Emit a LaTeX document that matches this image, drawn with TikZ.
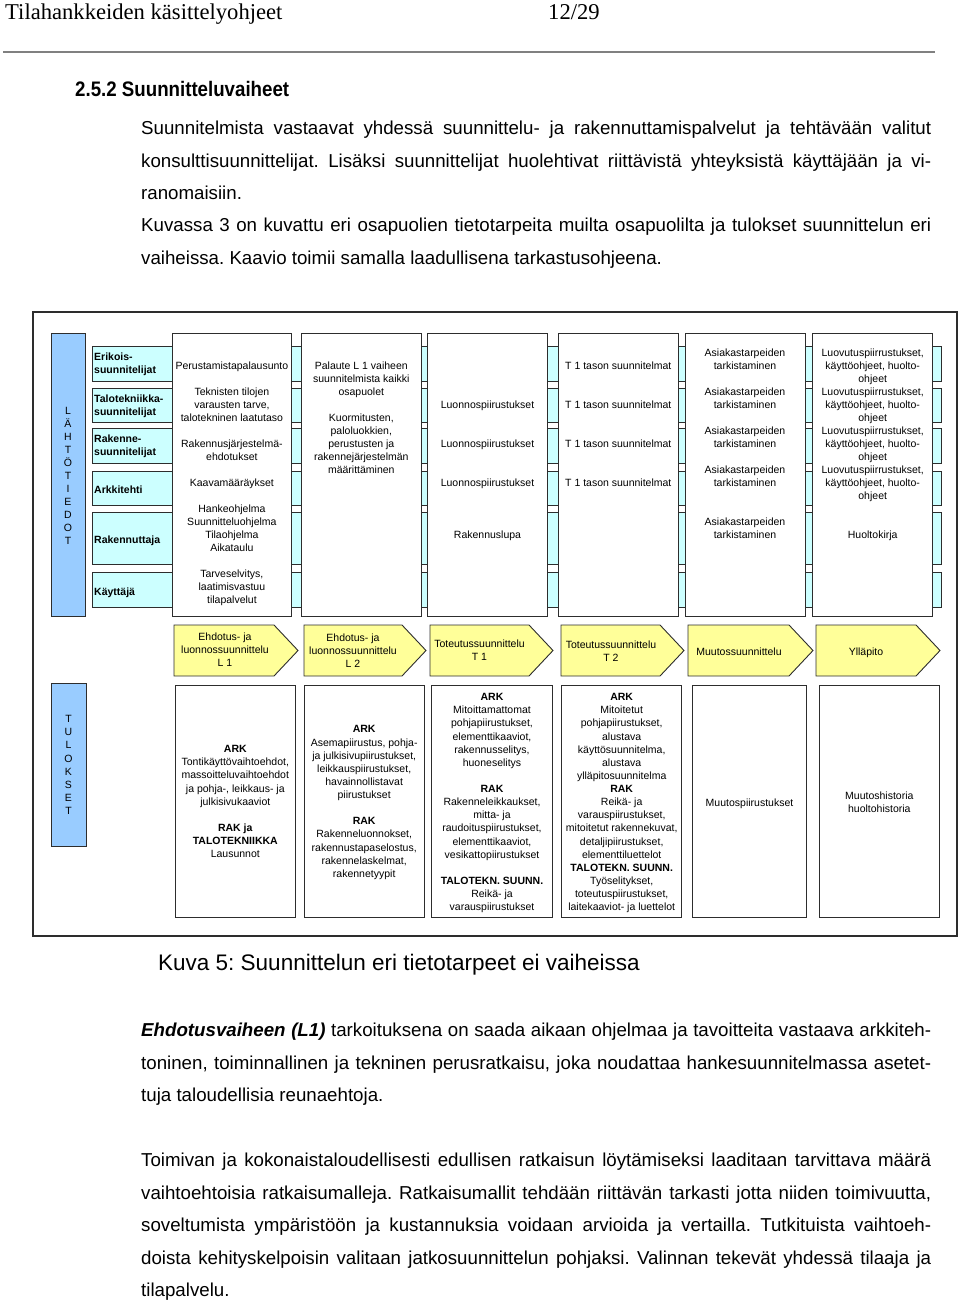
\documentclass[tikz,border=0pt]{standalone}
\usepackage{fontspec}
\usepackage{graphicx}
\setmainfont{Liberation Sans}
\newfontfamily\hdrfont{Liberation Serif}
\frenchspacing
\definecolor{bandc}{RGB}{204,255,255}
\definecolor{barc}{RGB}{153,204,255}
\definecolor{arrc}{RGB}{255,255,153}
\definecolor{linec}{RGB}{45,45,45}
\definecolor{rulec}{RGB}{128,128,128}
\tikzset{
  boxline/.style={draw=linec, line width=0.9pt},
  colbox/.style={boxline, fill=white},
  band/.style={boxline, fill=bandc},
  bluebar/.style={boxline, fill=barc},
  phase/.style={boxline, fill=arrc, line join=miter},
  dtxt/.style={align=center, inner sep=0pt, yshift=-2pt, font=\fontsize{10.5}{13}\selectfont,
    execute at begin node=\strut, execute at end node=\strut},
  btxt/.style={align=center, inner sep=0pt, yshift=-2pt, font=\fontsize{10.5}{13.125}\selectfont,
    execute at begin node=\strut, execute at end node=\strut},
  ltxt/.style={align=left, anchor=west, inner sep=0pt, yshift=-2pt, font=\fontsize{10.5}{13}\selectfont\bfseries,
    execute at begin node=\strut, execute at end node=\strut},
  body/.style={anchor=base west, inner sep=0pt, font=\fontsize{18.7}{22}\selectfont},
}
\newcommand{\jl}[1]{\makebox[790pt][s]{#1}}
\begin{document}
\begin{tikzpicture}[x=1pt,y=-1pt]
\useasboundingbox (0,0) rectangle (960,1303);
% page header
\node[anchor=base west, inner sep=0pt, font=\hdrfont\fontsize{22.6}{26}\selectfont] (hdr) at (5,20) {Tilahankkeiden käsittelyohjeet};
\node[anchor=base west, inner sep=0pt, font=\hdrfont\fontsize{22.6}{26}\selectfont] (pg) at (548,20) {12/29};
\draw[rulec, line width=2pt] (3,52) -- (935,52);
\node[anchor=base west, inner sep=0pt, font=\fontsize{21}{24}\selectfont\bfseries] (h252) at (75,97) {\scalebox{0.89}[1]{2.5.2 Suunnitteluvaiheet}};
% intro text
\node[body] (t1) at (141,134.8) {\jl{Suunnitelmista vastaavat yhdessä suunnittelu- ja rakennuttamispalvelut ja tehtävään valitut}};
\node[body] (t2) at (141,167.1) {\jl{konsulttisuunnittelijat. Lisäksi suunnittelijat huolehtivat riittävistä yhteyksistä käyttäjään ja vi-}};
\node[body] (t3) at (141,199.4) {ranomaisiin.};
\node[body] (t4) at (141,231.7) {\jl{Kuvassa 3 on kuvattu eri osapuolien tietotarpeita muilta osapuolilta ja tulokset suunnittelun eri}};
\node[body] (t5) at (141,264.0) {vaiheissa. Kaavio toimii samalla laadullisena tarkastusohjeena.};
% diagram frame
\draw[linec, line width=1.5pt] (33,312) rectangle (957,936);
% row bands
\draw[band] (92,346.5) rectangle (941,381);
\draw[band] (92,388) rectangle (941,422);
\draw[band] (92,428.5) rectangle (941,463);
\draw[band] (92,471) rectangle (941,505);
\draw[band] (92,512) rectangle (941,564);
\draw[band] (92,572) rectangle (941,607);
% input columns
\draw[colbox] (172.7,333) rectangle (291,616);
\draw[colbox] (301.7,333) rectangle (421,616);
\draw[colbox] (427.7,333) rectangle (547.3,616);
\draw[colbox] (558.3,333) rectangle (678.3,616);
\draw[colbox] (685,333) rectangle (805,616);
\draw[colbox] (812.7,333) rectangle (932.7,616);
% blue bars
\draw[bluebar] (51,333) rectangle (85,616);
\draw[bluebar] (51,683) rectangle (86,846);
\node[dtxt] (lahto) at (68,475.5) {L\\Ä\\H\\T\\Ö\\T\\I\\E\\D\\O\\T};
\node[btxt] (tulos) at (68.5,765) {T\\U\\L\\O\\K\\S\\E\\T};
% row labels
\node[ltxt] (r1) at (94,363.5) {Erikois-\\suunnitelijat};
\node[ltxt] (r2) at (94,405.5) {Talotekniikka-\\suunnitelijat};
\node[ltxt] (r3) at (94,445.5) {Rakenne-\\suunnitelijat};
\node[ltxt] (r4) at (94,489) {Arkkitehti};
\node[ltxt] (r5) at (94,539) {Rakennuttaja};
\node[ltxt] (r6) at (94,591) {Käyttäjä};
% input column texts
\node[dtxt] (c1) at (231.9,483) {Perustamistapalausunto\\~\\Teknisten tilojen\\varausten tarve,\\talotekninen laatutaso\\~\\Rakennusjärjestelmä-\\ehdotukset\\~\\Kaavamääräykset\\~\\Hankeohjelma\\Suunnitteluohjelma\\Tilaohjelma\\Aikataulu\\~\\Tarveselvitys,\\laatimisvastuu\\tilapalvelut};
\node[dtxt] (c2) at (361.3,418) {Palaute L 1 vaiheen\\suunnitelmista kaikki\\osapuolet\\~\\Kuormitusten,\\paloluokkien,\\perustusten ja\\rakennejärjestelmän\\määrittäminen};
\node[dtxt] (c3) at (487.5,470) {Luonnospiirustukset\\~\\~\\Luonnospiirustukset\\~\\~\\Luonnospiirustukset\\~\\~\\~\\Rakennuslupa};
\node[dtxt] (c4) at (618.3,424.5) {T 1 tason suunnitelmat\\~\\~\\T 1 tason suunnitelmat\\~\\~\\T 1 tason suunnitelmat\\~\\~\\T 1 tason suunnitelmat};
\node[dtxt] (c5) at (745,444) {Asiakastarpeiden\\tarkistaminen\\~\\Asiakastarpeiden\\tarkistaminen\\~\\Asiakastarpeiden\\tarkistaminen\\~\\Asiakastarpeiden\\tarkistaminen\\~\\~\\Asiakastarpeiden\\tarkistaminen};
\node[dtxt] (c6) at (872.7,444) {Luovutuspiirrustukset,\\käyttöohjeet, huolto-\\ohjeet\\Luovutuspiirrustukset,\\käyttöohjeet, huolto-\\ohjeet\\Luovutuspiirrustukset,\\käyttöohjeet, huolto-\\ohjeet\\Luovutuspiirrustukset,\\käyttöohjeet, huolto-\\ohjeet\\~\\~\\Huoltokirja};
% phase arrows
\draw[phase] (174,625) -- (274,625) -- (298,650.5) -- (274,676) -- (174,676) -- cycle;
\draw[phase] (304,625) -- (402,625) -- (426,650.5) -- (402,676) -- (304,676) -- cycle;
\draw[phase] (430,625) -- (529,625) -- (553,650.5) -- (529,676) -- (430,676) -- cycle;
\draw[phase] (561,625) -- (660,625) -- (684,650.5) -- (660,676) -- (561,676) -- cycle;
\draw[phase] (688,625) -- (789,625) -- (813,650.5) -- (789,676) -- (688,676) -- cycle;
\draw[phase] (816,625) -- (916,625) -- (940,650.5) -- (916,676) -- (816,676) -- cycle;
\node[dtxt] (a1) at (225,650) {Ehdotus- ja\\luonnossuunnittelu\\L 1};
\node[dtxt] (a2) at (353,650.5) {Ehdotus- ja\\luonnossuunnittelu\\L 2};
\node[dtxt] (a3) at (479.5,650.5) {Toteutussuunnittelu\\T 1};
\node[dtxt] (a4) at (611,651) {Toteutussuunnittelu\\T 2};
\node[dtxt] (a5) at (739,651) {Muutossuunnittelu};
\node[dtxt] (a6) at (866,651) {Ylläpito};
% result boxes
\draw[colbox] (175,685) rectangle (295.7,917);
\draw[colbox] (304,685) rectangle (424.3,917);
\draw[colbox] (431.7,685) rectangle (552.3,917);
\draw[colbox] (561.7,685) rectangle (681.7,917);
\draw[colbox] (692.3,685) rectangle (806.7,917);
\draw[colbox] (819.3,685) rectangle (939.3,917);
\node[btxt] (b1) at (235.3,801.5) {\textbf{ARK}\\Tontikäyttövaihtoehdot,\\massoitteluvaihtoehdot\\ja pohja-, leikkaus- ja\\julkisivukaaviot\\~\\\textbf{RAK ja}\\\textbf{TALOTEKNIIKKA}\\Lausunnot};
\node[btxt] (b2) at (364.2,801.5) {\textbf{ARK}\\Asemapiirustus, pohja-\\ja julkisivupiirustukset,\\leikkauspiirustukset,\\havainnollistavat\\piirustukset\\~\\\textbf{RAK}\\Rakenneluonnokset,\\rakennustapaselostus,\\rakennelaskelmat,\\rakennetyypit};
\node[btxt] (b3) at (492,802) {\textbf{ARK}\\Mitoittamattomat\\pohjapiirustukset,\\elementtikaaviot,\\rakennusselitys,\\huoneselitys\\~\\\textbf{RAK}\\Rakenneleikkaukset,\\mitta- ja\\raudoituspiirustukset,\\elementtikaaviot,\\vesikattopiirustukset\\~\\\textbf{TALOTEKN. SUUNN.}\\Reikä- ja\\varauspiirustukset};
\node[btxt] (b4) at (621.7,802) {\textbf{ARK}\\Mitoitetut\\pohjapiirustukset,\\alustava\\käyttösuunnitelma,\\alustava\\ylläpitosuunnitelma\\\textbf{RAK}\\Reikä- ja\\varauspiirustukset,\\mitoitetut rakennekuvat,\\detaljipiirustukset,\\elementtiluettelot\\\textbf{TALOTEKN. SUUNN.}\\Työselitykset,\\toteutuspiirustukset,\\laitekaaviot- ja luettelot};
\node[btxt] (b5) at (749.5,802) {Muutospiirustukset};
\node[btxt] (b6) at (879.3,802.5) {Muutoshistoria\\huoltohistoria};
% caption
\node[anchor=base west, inner sep=0pt, font=\fontsize{22.5}{26}\selectfont] (cap) at (158,970) {Kuva 5: Suunnittelun eri tietotarpeet ei vaiheissa};
% paragraphs
\node[body] (p1) at (141,1036.7) {\jl{\textbf{\textit{Ehdotusvaiheen (L1)}} tarkoituksena on saada aikaan ohjelmaa ja tavoitteita vastaava arkkiteh-}};
\node[body] (p2) at (141,1069) {\jl{toninen, toiminnallinen ja tekninen perusratkaisu, joka noudattaa hankesuunnitelmassa asetet-}};
\node[body] (p3) at (141,1101.5) {tuja taloudellisia reunaehtoja.};
\node[body] (q1) at (141,1166.7) {\jl{Toimivan ja kokonaistaloudellisesti edullisen ratkaisun löytämiseksi laaditaan tarvittava määrä}};
\node[body] (q2) at (141,1199) {\jl{vaihtoehtoisia ratkaisumalleja. Ratkaisumallit tehdään riittävän tarkasti jotta niiden toimivuutta,}};
\node[body] (q3) at (141,1231.5) {\jl{soveltumista ympäristöön ja kustannuksia voidaan arvioida ja vertailla. Tutkituista vaihtoeh-}};
\node[body] (q4) at (141,1264) {\jl{doista kehityskelpoisin valitaan jatkosuunnittelun pohjaksi. Valinnan tekevät yhdessä tilaaja ja}};
\node[body] (q5) at (141,1296.5) {tilapalvelu.};
\end{tikzpicture}
\end{document}
